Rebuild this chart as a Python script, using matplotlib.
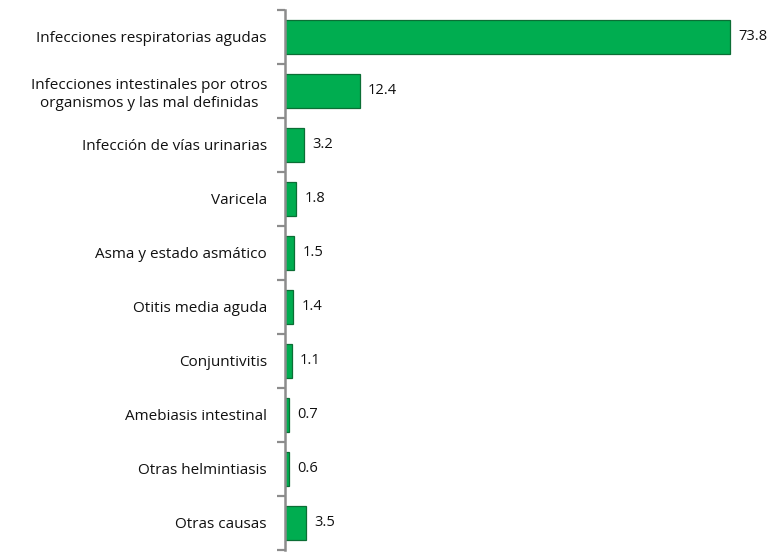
import matplotlib.pyplot as plt
import numpy as np

categorias = ["Infecciones respiratorias agudas",
              "Infecciones intestinales por otros\norganismos y las mal definidas",
              "Infección de vías urinarias", "Varicela", "Asma y estado asmático",
              "Otitis media aguda", "Conjuntivitis", "Amebiasis intestinal",
              "Otras helmintiasis", "Otras causas"]
valores = [73.8, 12.4, 3.2, 1.8, 1.5, 1.4, 1.1, 0.7, 0.6, 3.5]
etiquetas = ["73.8", "12.4", "3.2", "1.8", "1.5", "1.4", "1.1", "0.7", "0.6", "3.5"]

plt.rcParams["font.family"] = ["Open Sans", "DejaVu Sans"]

fig = plt.figure(figsize=(7.69, 5.55), dpi=100)
ax = fig.add_axes([285 / 769, 5 / 555, 482 / 769, 540 / 555])

y = np.arange(len(categorias))
ax.barh(y, valores, height=0.62, color="#00ad50", edgecolor="#0b6e35", linewidth=0.9)
for yi, v, t in zip(y, valores, etiquetas):
    ax.annotate(t, xy=(v, yi), xytext=(6, 0), textcoords="offset points",
                va="center", ha="left", fontsize=10.5, color="#111111")

ax.set_ylim(len(categorias) - 0.5, -0.5)
ax.set_xlim(0, 80)
ax.set_yticks(y)
ax.set_yticklabels(categorias, fontsize=11, multialignment="center", color="#111111",
                   linespacing=1.25)
ax.set_yticks(np.arange(len(categorias) + 1) - 0.5, minor=True)
ax.tick_params(axis="y", which="major", length=0, pad=13)
ax.tick_params(axis="y", which="minor", length=6, width=1.6, color="#8c8c8c")
ax.set_xticks([])
for lado in ["top", "right", "bottom"]:
    ax.spines[lado].set_visible(False)
ax.spines["left"].set_color("#8c8c8c")
ax.spines["left"].set_linewidth(1.8)

fig.savefig("out.png", dpi=100, facecolor="white")
